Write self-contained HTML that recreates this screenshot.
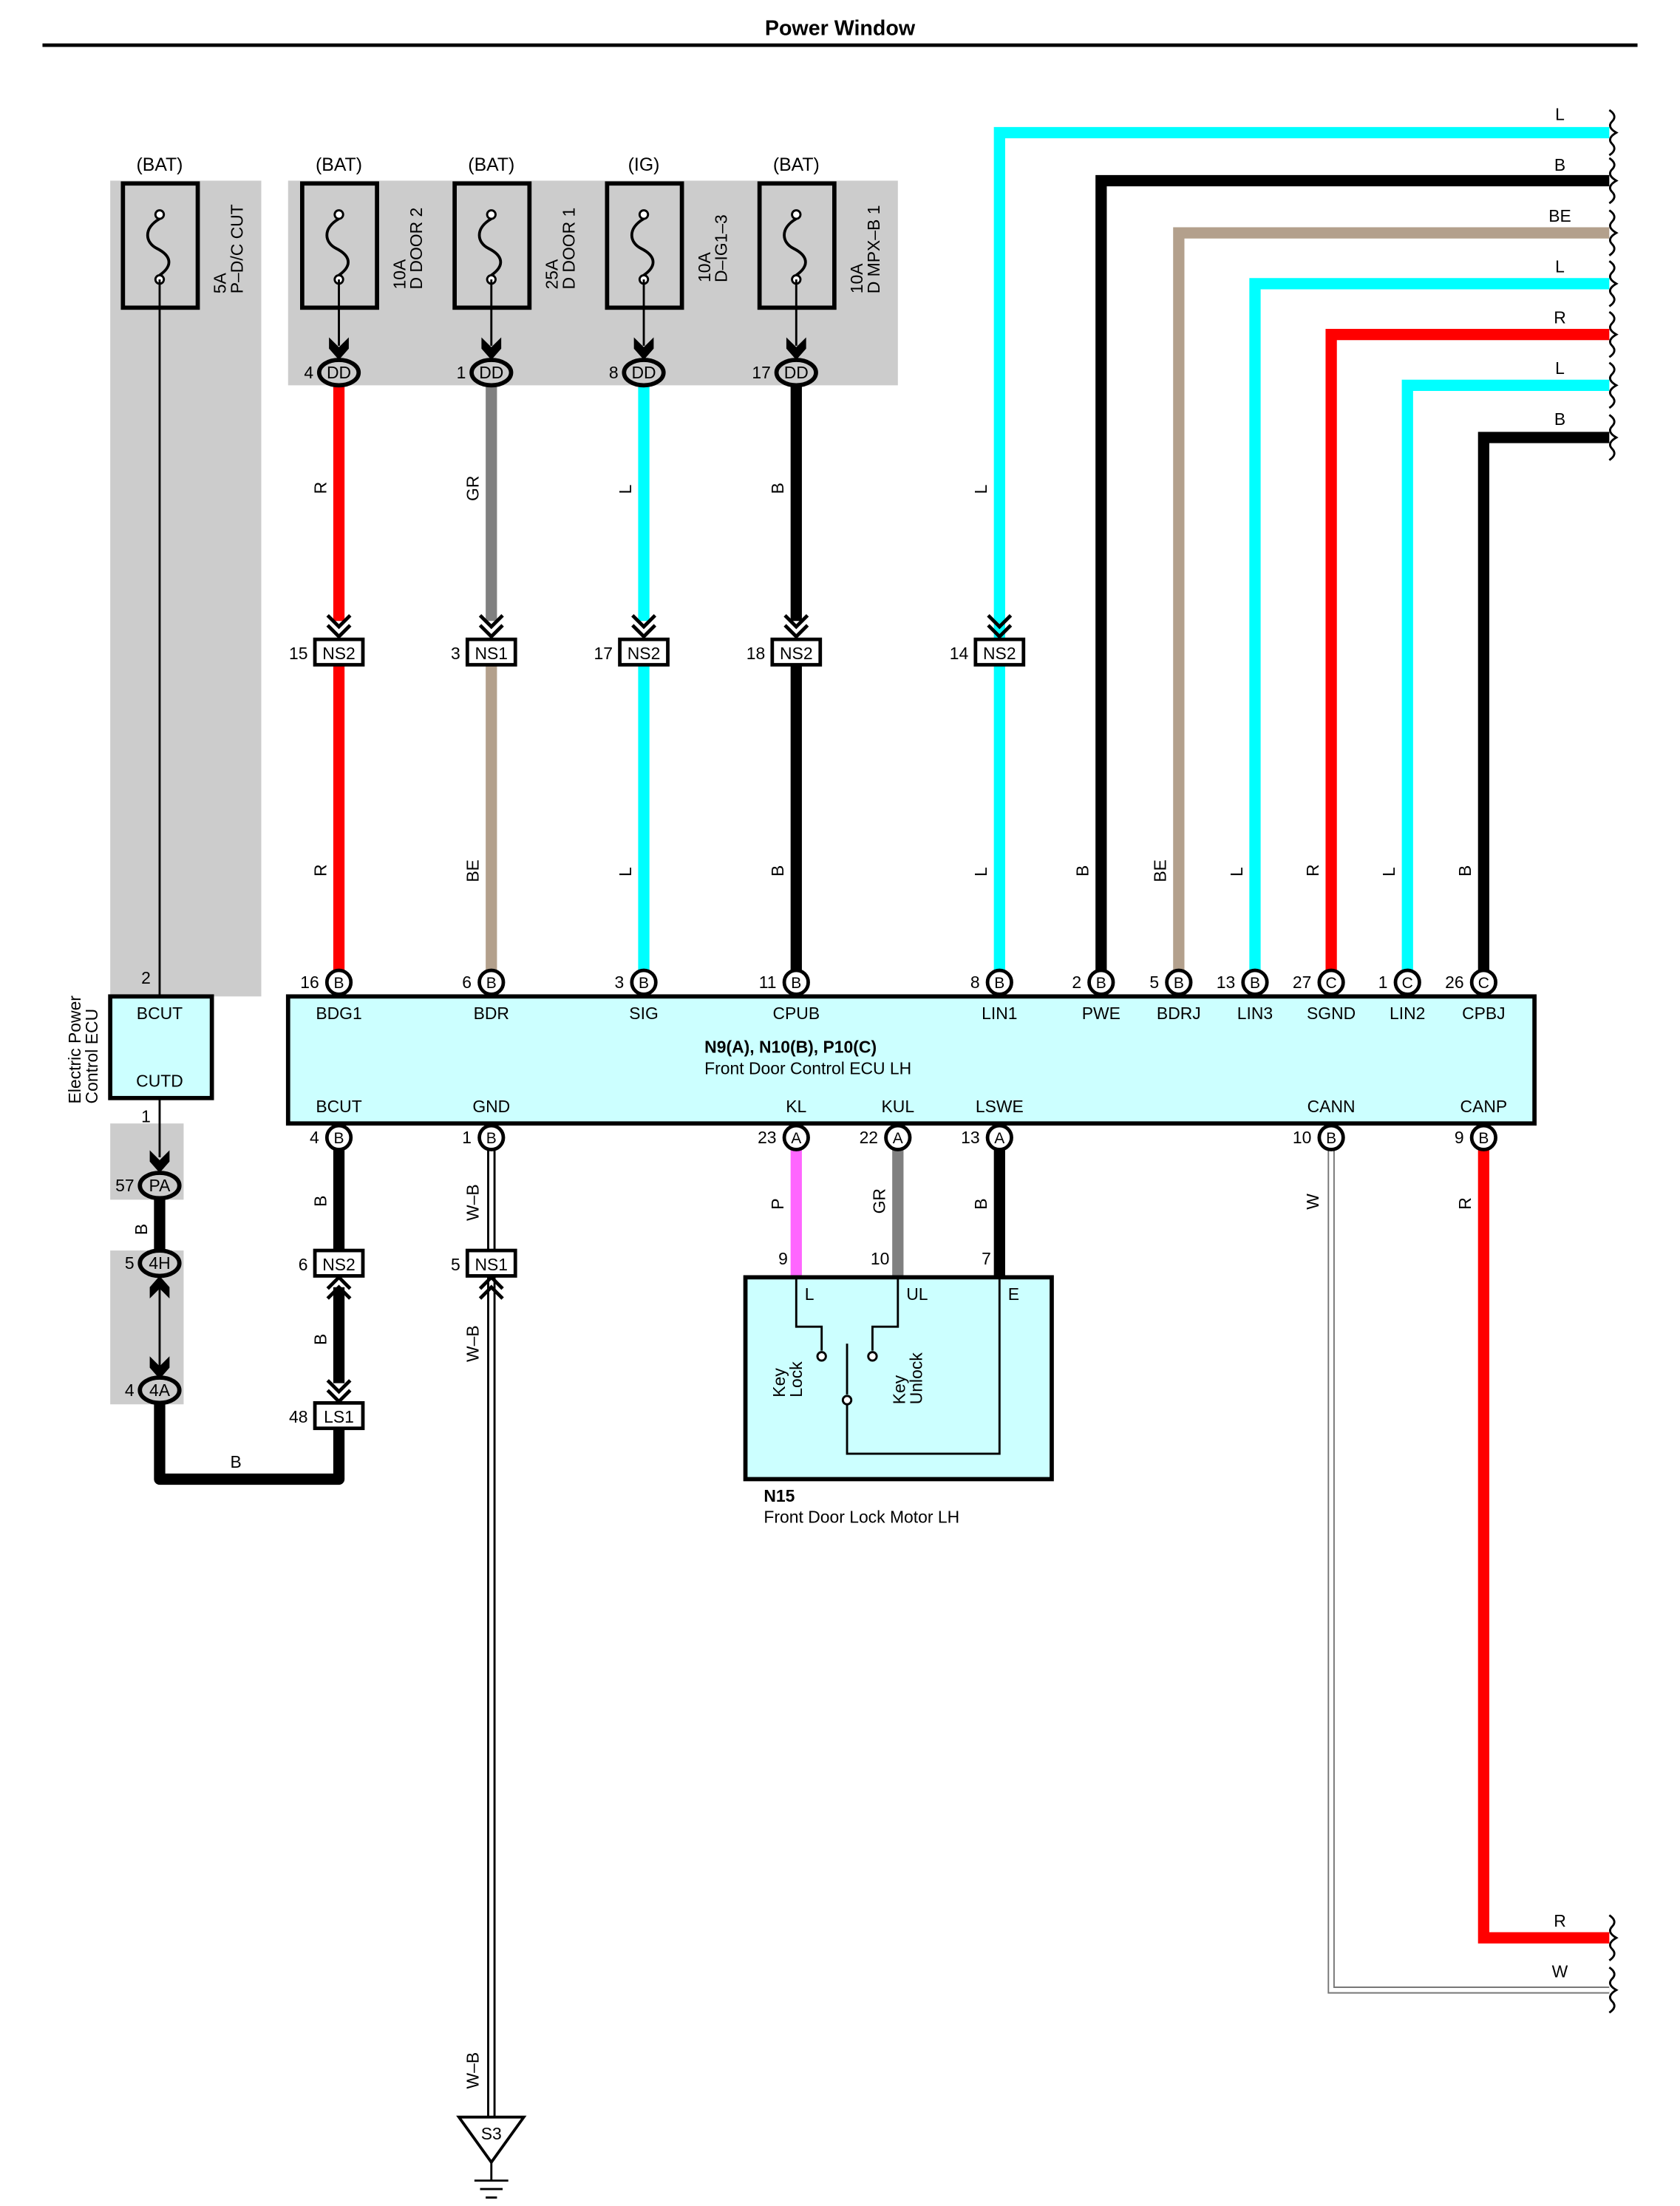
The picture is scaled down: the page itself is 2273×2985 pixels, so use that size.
<!DOCTYPE html>
<html><head><meta charset="utf-8"><style>
html,body{margin:0;padding:0;background:#fff}
svg{display:block}
text{font-family:"Liberation Sans",sans-serif;}
</style></head><body>
<svg width="2273" height="2985" viewBox="0 0 1190 1563" xmlns="http://www.w3.org/2000/svg">
<defs>
<g id="fuse">
<rect x="-26" y="0" width="53" height="88" fill="none" stroke="#000" stroke-width="3"/>
<circle cx="0" cy="22" r="3" fill="#fff" stroke="#000" stroke-width="1.5"/>
<circle cx="0" cy="68" r="3" fill="#fff" stroke="#000" stroke-width="1.5"/>
<path d="M0,25 C-12,32 -10,42 -2,46 C8,51 10,58 0,65" fill="none" stroke="#000" stroke-width="2"/>
</g>
<g id="wav"><path d="M0,-16 q6,4 2,8 q-4,4 3,8 q-7,4 -3,8 q4,4 -2,8" fill="none" stroke="#000" stroke-width="1.5"/></g>
<g id="dch"><polyline points="-8,-8 0,0 8,-8" fill="none" stroke="#000" stroke-width="2.5"/><polyline points="-8,-15 0,-7 8,-15" fill="none" stroke="#000" stroke-width="2.5"/></g>
<g id="dchu"><polyline points="-8,8 0,0 8,8" fill="none" stroke="#000" stroke-width="2.5"/><polyline points="-8,15 0,7 8,15" fill="none" stroke="#000" stroke-width="2.5"/></g>
<g id="farr"><polygon points="-7,-15 0,-8 7,-15 7,-7 0,1 -7,-7" fill="#000"/></g>
<g id="farru"><polygon points="-7,15 0,8 7,15 7,7 0,-1 -7,7" fill="#000"/></g>
</defs>
<!-- title -->
<text x="595" y="25" font-size="15" font-weight="bold" text-anchor="middle">Power Window</text>
<line x1="30" y1="32" x2="1160" y2="32" stroke="#000" stroke-width="2.5"/>
<!-- gray areas -->
<rect x="78" y="128" width="107" height="578" fill="#cccccc"/>
<rect x="204" y="128" width="432" height="145" fill="#cccccc"/>
<rect x="78" y="796" width="52" height="54" fill="#cccccc"/>
<rect x="78" y="886" width="52" height="109" fill="#cccccc"/>
<!-- fuses -->
<g font-size="13">
<text x="113" y="121" text-anchor="middle">(BAT)</text>
<text x="240" y="121" text-anchor="middle">(BAT)</text>
<text x="348" y="121" text-anchor="middle">(BAT)</text>
<text x="456" y="121" text-anchor="middle">(IG)</text>
<text x="564" y="121" text-anchor="middle">(BAT)</text>
</g>
<use href="#fuse" x="113" y="130"/>
<use href="#fuse" x="240" y="130"/>
<use href="#fuse" x="348" y="130"/>
<use href="#fuse" x="456" y="130"/>
<use href="#fuse" x="564" y="130"/>
<g font-size="12">
<text transform="translate(160,208) rotate(-90)">5A</text><text transform="translate(172,208) rotate(-90)">P–D/C CUT</text>
<text transform="translate(287,205) rotate(-90)">10A</text><text transform="translate(299,205) rotate(-90)">D DOOR 2</text>
<text transform="translate(395,205) rotate(-90)">25A</text><text transform="translate(407,205) rotate(-90)">D DOOR 1</text>
<text transform="translate(503,200) rotate(-90)">10A</text><text transform="translate(515,200) rotate(-90)">D–IG1–3</text>
<text transform="translate(611,208) rotate(-90)">10A</text><text transform="translate(623,208) rotate(-90)">D MPX–B 1</text>
</g>
<!-- thin lines from fuses -->
<line x1="113" y1="198" x2="113" y2="706" stroke="#000" stroke-width="1.5"/>
<g stroke="#000" stroke-width="1.5">
<line x1="240" y1="198" x2="240" y2="245"/><line x1="348" y1="198" x2="348" y2="245"/>
<line x1="456" y1="198" x2="456" y2="245"/><line x1="564" y1="198" x2="564" y2="245"/>
</g>
<use href="#farr" x="240" y="254"/><use href="#farr" x="348" y="254"/><use href="#farr" x="456" y="254"/><use href="#farr" x="564" y="254"/>
<!-- vertical colored wires upper -->
<line x1="240" y1="272" x2="240" y2="440" stroke="#ff0000" stroke-width="8"/>
<line x1="348" y1="272" x2="348" y2="440" stroke="#808080" stroke-width="8"/>
<line x1="456" y1="272" x2="456" y2="440" stroke="#00ffff" stroke-width="8"/>
<line x1="564" y1="272" x2="564" y2="440" stroke="#000" stroke-width="8"/>
<!-- lower -->
<line x1="240" y1="470" x2="240" y2="690" stroke="#ff0000" stroke-width="8"/>
<line x1="348" y1="470" x2="348" y2="690" stroke="#b3a08c" stroke-width="8"/>
<line x1="456" y1="470" x2="456" y2="690" stroke="#00ffff" stroke-width="8"/>
<line x1="564" y1="470" x2="564" y2="690" stroke="#000" stroke-width="8"/>
<!-- right wires -->
<g fill="none" stroke-width="8">
<path d="M708,690 V94 H1140" stroke="#00ffff"/>
<path d="M780,690 V128 H1140" stroke="#000"/>
<path d="M835,690 V165 H1140" stroke="#b3a08c"/>
<path d="M889,690 V201 H1140" stroke="#00ffff"/>
<path d="M943,690 V237 H1140" stroke="#ff0000"/>
<path d="M997,690 V273 H1140" stroke="#00ffff"/>
<path d="M1051,690 V310 H1140" stroke="#000"/>
</g>
<g>
<use href="#wav" x="1140" y="94"/><use href="#wav" x="1140" y="128"/><use href="#wav" x="1140" y="165"/>
<use href="#wav" x="1140" y="201"/><use href="#wav" x="1140" y="237"/><use href="#wav" x="1140" y="273"/><use href="#wav" x="1140" y="310"/>
<use href="#wav" x="1140" y="1373"/><use href="#wav" x="1140" y="1410"/>
</g>
<g font-size="12" text-anchor="middle">
<text x="1105" y="85">L</text><text x="1105" y="121">B</text><text x="1105" y="157">BE</text>
<text x="1105" y="193">L</text><text x="1105" y="229">R</text><text x="1105" y="265">L</text><text x="1105" y="301">B</text>
<text x="1105" y="1365">R</text><text x="1105" y="1401">W</text>
</g>
<!-- DD connectors -->
<g font-size="12">
<g stroke="#000" stroke-width="3" fill="#ccc">
<ellipse cx="240" cy="264" rx="14" ry="9"/><ellipse cx="348" cy="264" rx="14" ry="9"/>
<ellipse cx="456" cy="264" rx="14" ry="9"/><ellipse cx="564" cy="264" rx="14" ry="9"/>
</g>
<g text-anchor="middle"><text x="240" y="268">DD</text><text x="348" y="268">DD</text><text x="456" y="268">DD</text><text x="564" y="268">DD</text></g>
<g text-anchor="end"><text x="222" y="268">4</text><text x="330" y="268">1</text><text x="438" y="268">8</text><text x="546" y="268">17</text></g>
</g>
<!-- chevrons -->
<use href="#dch" x="240" y="451"/><use href="#dch" x="348" y="451"/><use href="#dch" x="456" y="451"/><use href="#dch" x="564" y="451"/><use href="#dch" x="708" y="451"/>
<!-- NS connectors row -->
<g stroke="#000" stroke-width="2.5" fill="#fff">
<rect x="223" y="453" width="34" height="18"/><rect x="331" y="453" width="34" height="18"/>
<rect x="439" y="453" width="34" height="18"/><rect x="547" y="453" width="34" height="18"/><rect x="691" y="453" width="34" height="18"/>
</g>
<g font-size="12" text-anchor="middle"><text x="240" y="467">NS2</text><text x="348" y="467">NS1</text><text x="456" y="467">NS2</text><text x="564" y="467">NS2</text><text x="708" y="467">NS2</text></g>
<g font-size="12" text-anchor="end"><text x="218" y="467">15</text><text x="326" y="467">3</text><text x="434" y="467">17</text><text x="542" y="467">18</text><text x="686" y="467">14</text></g>
<!-- wire labels rotated -->
<g font-size="12">
<text transform="translate(231,350) rotate(-90)">R</text>
<text transform="translate(339,355) rotate(-90)">GR</text>
<text transform="translate(447,350) rotate(-90)">L</text>
<text transform="translate(555,350) rotate(-90)">B</text>
<text transform="translate(699,350) rotate(-90)">L</text>
<text transform="translate(231,621) rotate(-90)">R</text>
<text transform="translate(339,625) rotate(-90)">BE</text>
<text transform="translate(447,621) rotate(-90)">L</text>
<text transform="translate(555,621) rotate(-90)">B</text>
<text transform="translate(699,621) rotate(-90)">L</text>
<text transform="translate(771,621) rotate(-90)">B</text>
<text transform="translate(826,625) rotate(-90)">BE</text>
<text transform="translate(880,621) rotate(-90)">L</text>
<text transform="translate(934,621) rotate(-90)">R</text>
<text transform="translate(988,621) rotate(-90)">L</text>
<text transform="translate(1042,621) rotate(-90)">B</text>
<text transform="translate(231,855) rotate(-90)">B</text>
<text transform="translate(339,865) rotate(-90)">W–B</text>
<text transform="translate(231,953) rotate(-90)">B</text>
<text transform="translate(339,965) rotate(-90)">W–B</text>
<text transform="translate(339,1480) rotate(-90)">W–B</text>
<text transform="translate(104,875) rotate(-90)">B</text>
<text transform="translate(555,857) rotate(-90)">P</text>
<text transform="translate(627,860) rotate(-90)">GR</text>
<text transform="translate(699,857) rotate(-90)">B</text>
<text transform="translate(934,857) rotate(-90)">W</text>
<text transform="translate(1042,857) rotate(-90)">R</text>
</g>
<!-- ECU boxes -->
<rect x="204" y="706" width="883" height="90" fill="#ccffff" stroke="#000" stroke-width="3"/>
<rect x="78" y="706" width="72" height="72" fill="#ccffff" stroke="#000" stroke-width="3"/>
<g font-size="12" text-anchor="middle">
<text x="113" y="722">BCUT</text><text x="113" y="770">CUTD</text>
<text x="240" y="722">BDG1</text><text x="348" y="722">BDR</text><text x="456" y="722">SIG</text><text x="564" y="722">CPUB</text>
<text x="708" y="722">LIN1</text><text x="780" y="722">PWE</text><text x="835" y="722">BDRJ</text><text x="889" y="722">LIN3</text>
<text x="943" y="722">SGND</text><text x="997" y="722">LIN2</text><text x="1051" y="722">CPBJ</text>
<text x="240" y="788">BCUT</text><text x="348" y="788">GND</text><text x="564" y="788">KL</text><text x="636" y="788">KUL</text>
<text x="708" y="788">LSWE</text><text x="943" y="788">CANN</text><text x="1051" y="788">CANP</text>
</g>
<text x="499" y="746" font-size="12" font-weight="bold">N9(A), N10(B), P10(C)</text>
<text x="499" y="761" font-size="12">Front Door Control ECU LH</text>
<text transform="translate(57,782) rotate(-90)" font-size="12">Electric Power</text>
<text transform="translate(69,782) rotate(-90)" font-size="12">Control ECU</text>
<g font-size="12"><text x="100" y="697">2</text><text x="100" y="795">1</text></g>
<!-- bottom wires -->
<line x1="113" y1="778" x2="113" y2="820" stroke="#000" stroke-width="1.5"/>
<use href="#farr" x="113" y="830"/>
<line x1="113" y1="848" x2="113" y2="888" stroke="#000" stroke-width="8"/>
<line x1="113" y1="905" x2="113" y2="975" stroke="#000" stroke-width="1.5"/>
<use href="#farru" x="113" y="905"/><use href="#farr" x="113" y="976"/>
<path d="M113,993 V1048 H240 V1010" fill="none" stroke="#000" stroke-width="8" stroke-linejoin="round"/>
<text x="167" y="1040" font-size="12" text-anchor="middle">B</text>
<line x1="240" y1="814" x2="240" y2="887" stroke="#000" stroke-width="8"/>
<line x1="240" y1="912" x2="240" y2="980" stroke="#000" stroke-width="8"/>
<use href="#dchu" x="240" y="905"/><use href="#dch" x="240" y="993"/>
<!-- W-B -->
<line x1="348" y1="814" x2="348" y2="887" stroke="#000" stroke-width="6"/>
<line x1="348" y1="814" x2="348" y2="887" stroke="#fff" stroke-width="3"/>
<line x1="348" y1="905" x2="348" y2="1500" stroke="#000" stroke-width="6"/>
<line x1="348" y1="905" x2="348" y2="1500" stroke="#fff" stroke-width="3"/>
<use href="#dchu" x="348" y="905"/>
<polygon points="325,1500 371,1500 348,1532" fill="#fff" stroke="#000" stroke-width="2"/>
<text x="348" y="1516" font-size="12" text-anchor="middle">S3</text>
<g stroke="#000" stroke-width="1.5"><line x1="348" y1="1532" x2="348" y2="1545"/><line x1="336" y1="1545" x2="360" y2="1545"/><line x1="340" y1="1551" x2="356" y2="1551"/><line x1="344" y1="1557" x2="352" y2="1557"/></g>
<!-- KL KUL LSWE -->
<line x1="564" y1="814" x2="564" y2="905" stroke="#ff66ff" stroke-width="8"/>
<line x1="636" y1="814" x2="636" y2="905" stroke="#808080" stroke-width="8"/>
<line x1="708" y1="814" x2="708" y2="905" stroke="#000" stroke-width="8"/>
<!-- CANN / CANP -->
<path d="M943,814 V1410 H1140" fill="none" stroke="#777" stroke-width="5"/>
<path d="M943,814 V1410 H1140" fill="none" stroke="#fff" stroke-width="3"/>
<path d="M1051,814 V1373 H1140" fill="none" stroke="#ff0000" stroke-width="8"/>
<!-- connector rings -->
<g stroke="#000" stroke-width="3" fill="#ccc">
<ellipse cx="113" cy="840" rx="14" ry="9"/><ellipse cx="113" cy="895" rx="14" ry="9"/><ellipse cx="113" cy="985" rx="14" ry="9"/>
</g>
<g font-size="12" text-anchor="middle"><text x="113" y="844">PA</text><text x="113" y="899">4H</text><text x="113" y="989">4A</text></g>
<g font-size="12" text-anchor="end"><text x="95" y="844">57</text><text x="95" y="899">5</text><text x="95" y="989">4</text></g>
<g stroke="#000" stroke-width="2.5" fill="#fff">
<rect x="223" y="886" width="34" height="18"/><rect x="331" y="886" width="34" height="18"/><rect x="223" y="994" width="34" height="18"/>
</g>
<g font-size="12" text-anchor="middle"><text x="240" y="900">NS2</text><text x="348" y="900">NS1</text><text x="240" y="1008">LS1</text></g>
<g font-size="12" text-anchor="end"><text x="218" y="900">6</text><text x="326" y="900">5</text><text x="218" y="1008">48</text></g>
<!-- pin circles -->
<g stroke="#000" stroke-width="2.5" fill="#fff">
<circle cx="240" cy="696" r="8.5"/><circle cx="348" cy="696" r="8.5"/><circle cx="456" cy="696" r="8.5"/><circle cx="564" cy="696" r="8.5"/>
<circle cx="708" cy="696" r="8.5"/><circle cx="780" cy="696" r="8.5"/><circle cx="835" cy="696" r="8.5"/><circle cx="889" cy="696" r="8.5"/>
<circle cx="943" cy="696" r="8.5"/><circle cx="997" cy="696" r="8.5"/><circle cx="1051" cy="696" r="8.5"/>
<circle cx="240" cy="806" r="8.5"/><circle cx="348" cy="806" r="8.5"/><circle cx="564" cy="806" r="8.5"/><circle cx="636" cy="806" r="8.5"/>
<circle cx="708" cy="806" r="8.5"/><circle cx="943" cy="806" r="8.5"/><circle cx="1051" cy="806" r="8.5"/>
</g>
<g font-size="11" text-anchor="middle">
<text x="240" y="700">B</text><text x="348" y="700">B</text><text x="456" y="700">B</text><text x="564" y="700">B</text>
<text x="708" y="700">B</text><text x="780" y="700">B</text><text x="835" y="700">B</text><text x="889" y="700">B</text>
<text x="943" y="700">C</text><text x="997" y="700">C</text><text x="1051" y="700">C</text>
<text x="240" y="810">B</text><text x="348" y="810">B</text><text x="564" y="810">A</text><text x="636" y="810">A</text>
<text x="708" y="810">A</text><text x="943" y="810">B</text><text x="1051" y="810">B</text>
</g>
<g font-size="12" text-anchor="end">
<text x="226" y="700">16</text><text x="334" y="700">6</text><text x="442" y="700">3</text><text x="550" y="700">11</text>
<text x="694" y="700">8</text><text x="766" y="700">2</text><text x="821" y="700">5</text><text x="875" y="700">13</text>
<text x="929" y="700">27</text><text x="983" y="700">1</text><text x="1037" y="700">26</text>
<text x="226" y="810">4</text><text x="334" y="810">1</text><text x="550" y="810">23</text><text x="622" y="810">22</text>
<text x="694" y="810">13</text><text x="929" y="810">10</text><text x="1037" y="810">9</text>
</g>
<!-- N15 -->
<rect x="528" y="905" width="217" height="143" fill="#ccffff" stroke="#000" stroke-width="3"/>
<g font-size="12" text-anchor="end"><text x="558" y="896">9</text><text x="630" y="896">10</text><text x="702" y="896">7</text></g>
<g font-size="12"><text x="570" y="921">L</text><text x="642" y="921">UL</text><text x="714" y="921">E</text></g>
<g fill="none" stroke="#000" stroke-width="1.5">
<path d="M564,905 V940 H582 V957"/>
<path d="M636,905 V940 H618 V957"/>
<line x1="600" y1="952" x2="600" y2="988"/>
<path d="M600,995 V1030 H708 V905"/>
</g>
<g fill="#fff" stroke="#000" stroke-width="1.5"><circle cx="582" cy="961" r="3"/><circle cx="618" cy="961" r="3"/><circle cx="600" cy="992" r="3"/></g>
<g font-size="12">
<text transform="translate(556,990) rotate(-90)">Key</text><text transform="translate(568,990) rotate(-90)">Lock</text>
<text transform="translate(641,995) rotate(-90)">Key</text><text transform="translate(653,995) rotate(-90)">Unlock</text>
</g>
<text x="541" y="1064" font-size="12" font-weight="bold">N15</text>
<text x="541" y="1079" font-size="12">Front Door Lock Motor LH</text>
</svg>
</body></html>
